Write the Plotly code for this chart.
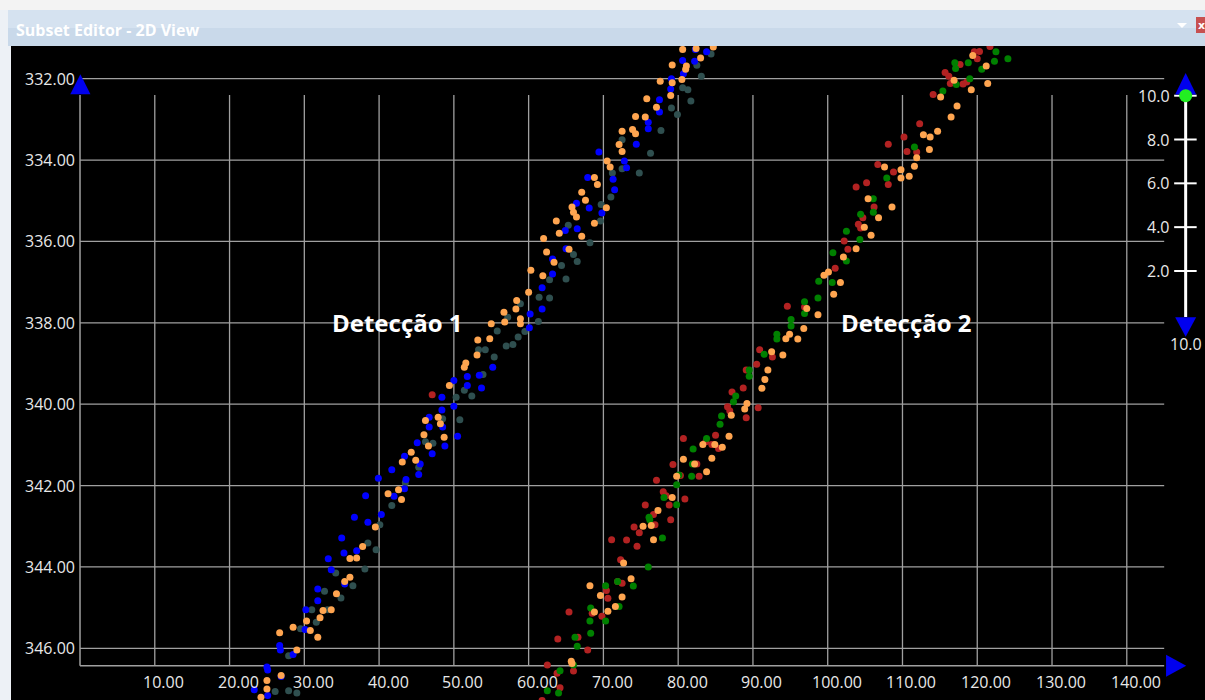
import plotly.graph_objects as go

# ---------------- data ----------------
X_TICKS = [10, 20, 30, 40, 50, 60, 70, 80, 90, 100, 110, 120, 130, 140]
Y_TICKS = [332, 334, 336, 338, 340, 342, 344, 346]
SLIDER_TICKS = [2.0, 4.0, 6.0, 8.0, 10.0]
SLIDER_VALUE = 10.0
SLIDER_MAX = 10.0
WINDOW_TITLE = "Subset Editor - 2D View"
LABEL_1 = "Detecção 1"
LABEL_2 = "Detecção 2"

# Detection 1 - blue
D1_BLUE_X = [82.3, 83.8, 80.6, 82.2, 80.7, 79.1, 79.0, 77.5, 77.5, 76.0, 76.0, 74.4, 69.4, 72.8, 73.1,
             71.3, 71.5, 67.9, 66.4, 68.1, 69.8, 66.5, 64.9, 65.0,
             63.2, 63.2, 61.8, 61.8, 60.2, 60.1, 55.2, 53.4, 51.8, 51.8, 53.7, 50.0, 48.4, 50.0, 48.4,
             46.7, 48.5, 50.5, 46.7, 45.1, 48.8, 47.1, 43.4, 45.5,
             45.3, 41.7, 39.9, 43.6, 43.4, 42.0, 38.2, 40.3, 36.7, 38.5, 35.0, 35.3, 37.0, 33.2, 33.6,
             35.4, 31.8, 31.8, 30.2, 30.1, 26.7, 26.8, 28.5, 25.0, 25.1, 26.9, 23.3, 25.1]
D1_BLUE_Y = [331.28, 331.34, 331.55, 331.57, 331.88, 332.00, 332.25, 332.52, 332.82, 333.07, 333.23, 333.61, 333.80, 334.02, 334.19,
             334.47, 334.73, 334.43, 335.06, 335.18, 335.30, 335.69, 335.73, 336.18,
             336.43, 336.80, 337.14, 337.66, 337.78, 338.12, 339.09, 339.29, 339.32, 339.54, 339.60, 339.42, 339.83, 340.05, 340.14,
             340.32, 340.56, 340.79, 340.56, 340.95, 341.03, 341.22, 341.28, 341.47,
             341.73, 341.61, 341.82, 341.85, 342.08, 342.26, 342.25, 342.71, 342.78, 342.90, 343.29, 343.66, 343.60, 343.80, 344.07,
             344.42, 344.54, 344.83, 345.05, 345.54, 345.93, 346.04, 346.15, 346.46, 346.53, 346.69, 347.02, 347.16]

# Detection 1 - dark slate grey
D1_GRAY_X = [84.4, 82.5, 83.1, 80.6, 81.3, 81.7, 79.1, 79.9, 77.7, 72.5, 76.3, 72.5, 74.8, 71.2, 71.0, 69.7, 69.6, 65.3, 68.2,
             66.0, 66.5, 64.4, 65.0, 62.8, 62.8, 61.4, 58.9, 61.3, 59.5, 58.6, 57.2, 55.8, 57.9, 57.0, 54.2, 53.3, 55.4,
             53.9, 52.4, 51.4, 50.3, 50.8, 48.5, 47.2, 46.2, 45.3,
             43.5, 41.7, 40.1, 38.5, 39.6, 38.1, 34.2, 36.5, 32.7, 34.9, 31.0, 33.1, 31.6, 29.5, 27.9, 26.1, 27.9, 29.0]
D1_GRAY_Y = [331.39, 331.67, 331.94, 332.22, 332.27, 332.55, 332.72, 332.88, 333.27, 333.50, 333.83, 334.21, 334.32, 334.32, 334.91, 335.09, 335.50, 335.60, 336.03,
             336.32, 336.49, 336.59, 336.92, 336.94, 337.39, 337.37, 337.53, 337.97, 338.21, 338.35, 337.86, 338.20, 338.53, 338.57, 338.66, 338.66, 338.84,
             339.27, 339.80, 339.66, 339.83, 340.38, 340.36, 340.96, 340.92, 341.55,
             341.93, 342.49, 342.96, 343.41, 343.58, 344.05, 344.15, 344.46, 344.60, 344.76, 345.05, 345.05, 345.36, 345.52, 346.18, 347.06, 347.04, 347.10]

# Detection 1 - orange
D1_ORANGE_X = [80.6, 82.4, 84.7, 79.2, 81.1, 81.0, 83.0, 77.6, 80.5, 79.2, 79.0, 75.8, 77.1, 75.6, 74.3, 72.5, 73.9, 74.3,
               72.1, 72.5, 70.5, 70.9, 68.8, 69.2, 67.1, 67.6, 65.8, 66.0, 66.4, 70.4, 63.7, 68.8, 64.1, 67.1, 62.0, 65.4,
               62.4, 63.4, 60.3, 61.9, 60.0, 58.4, 58.3, 56.7, 56.8, 58.9, 58.9, 55.0, 54.8, 53.2, 53.1, 51.4, 51.6, 49.4,
               46.2, 47.9, 48.2, 46.0, 48.7, 44.3, 43.1, 44.9, 46.6,
               41.2, 42.6, 43.0, 39.5, 37.8, 37.0, 36.1, 36.1, 35.4, 34.3, 33.6, 32.5, 32.1, 30.3, 28.5, 30.8, 31.8, 26.7,
               29.0, 26.9, 25.0, 25.0, 24.2]
D1_ORANGE_Y = [331.28, 331.26, 331.22, 331.66, 331.69, 331.77, 331.49, 332.06, 332.02, 332.10, 332.41, 332.49, 332.70, 332.94, 332.93, 333.29, 333.25, 333.35,
               333.62, 333.79, 334.02, 334.17, 334.43, 334.60, 334.79, 334.99, 335.15, 335.28, 335.40, 335.17, 335.50, 335.55, 335.80, 335.87, 335.93, 336.19,
               336.26, 336.51, 336.71, 336.84, 337.25, 337.45, 337.66, 337.74, 337.98, 337.90, 338.02, 338.02, 338.39, 338.42, 338.79, 339.09, 338.99, 339.54,
               340.40, 340.32, 340.48, 340.75, 340.81, 341.18, 341.42, 341.38, 341.03,
               342.20, 342.10, 342.34, 343.02, 343.50, 343.78, 343.79, 344.25, 344.36, 344.66, 345.05, 345.07, 345.25, 345.33, 345.48, 345.56, 345.73, 345.62,
               346.04, 346.67, 346.79, 347.00, 347.20]

# Detection 1 - red
D1_RED_X = [47.1]
D1_RED_Y = [339.77]

# Detection 2 - red
D2_RED_X = [119.6, 120.3, 121.7, 120.0, 117.7, 115.7, 116.2, 116.4, 118.1, 118.6, 114.1, 112.3, 110.2, 108.1, 110.6, 111.9,
            106.7, 108.8, 108.1, 105.2, 103.8, 106.2, 104.7, 104.1, 104.4, 102.2, 102.7,
            101.0, 94.6, 96.9, 90.9, 92.6, 90.5, 89.1, 88.7, 87.2, 86.6, 86.9, 90.7, 89.1, 85.0, 80.7, 83.7, 84.5, 85.4,
            79.3, 82.5, 82.8, 77.1,
            80.3, 78.0, 78.4, 75.6, 78.8, 80.9, 76.7, 76.9, 79.0, 74.1, 74.8, 71.1, 73.1, 74.5, 72.3, 71.9, 72.5, 70.4,
            70.6, 65.4, 68.5, 69.8, 66.6, 63.9, 67.9, 62.5, 66.0, 63.8, 64.2, 61.8]
D2_RED_Y = [331.34, 331.33, 331.21, 331.51, 331.65, 331.85, 331.94, 332.12, 332.13, 332.08, 332.39, 333.11, 333.43, 333.61, 333.79, 333.80,
            334.11, 334.29, 334.60, 334.56, 334.66, 335.15, 335.42, 335.58, 335.67, 335.99, 336.19,
            336.66, 337.59, 337.61, 338.66, 338.84, 339.02, 339.16, 339.60, 339.70, 340.06, 340.16, 340.09, 340.33, 340.76, 340.84, 340.92, 340.99, 341.09,
            341.48, 341.47, 341.77, 341.87,
            341.75, 342.15, 342.25, 342.48, 342.48, 342.33, 342.71, 342.96, 342.84, 343.02, 343.16, 343.33, 343.34, 343.49, 343.82, 344.36, 344.40, 344.58,
            344.77, 345.11, 345.14, 345.21, 345.73, 345.77, 346.04, 346.41, 346.56, 346.61, 346.97, 347.28]

# Detection 2 - green
D2_GREEN_X = [122.5, 124.1, 122.3, 117.0, 117.1, 118.8, 120.6, 119.0, 117.2, 115.4, 111.6, 107.9, 106.1, 104.4, 106.1, 102.5, 104.3, 100.7,
              102.5, 98.8, 100.6, 98.7, 96.9, 96.9, 95.1, 95.1, 93.2, 93.2, 91.5, 89.5, 89.5, 87.7, 87.4, 85.8, 85.6, 83.8, 82.0,
              81.9, 80.1, 81.8,
              79.8, 78.1, 79.8, 76.1, 76.2, 77.9, 76.0, 70.3, 71.9, 74.0, 72.1, 68.3, 68.2, 70.3, 68.3, 66.2, 66.5, 66.0, 64.2, 62.5, 64.0]
D2_GREEN_Y = [331.34, 331.51, 331.57, 331.61, 331.75, 331.61, 331.77, 332.00, 332.14, 332.30, 333.68, 334.44, 334.95, 335.33, 335.28, 335.75, 335.95, 336.28,
              336.48, 336.98, 337.01, 337.39, 337.48, 337.77, 337.92, 338.08, 338.28, 338.40, 338.77, 339.16, 339.31, 339.80, 339.94, 340.29, 340.49, 340.84, 341.10,
              341.47, 341.74, 341.77,
              341.98, 342.29, 342.47, 342.78, 342.84, 343.29, 344.00, 344.46, 344.36, 344.47, 344.97, 345.01, 345.33, 345.33, 345.63, 345.73, 345.95, 346.41, 346.55, 347.04, 347.10]

# Detection 2 - orange
D2_ORANGE_X = [119.4, 121.2, 116.9, 121.4, 119.2, 115.1, 117.3, 116.5, 114.7, 112.8, 113.7, 113.6, 111.9, 111.6, 107.6, 109.8, 109.8, 110.9,
               105.4, 108.6, 106.8, 104.9, 105.8, 103.8, 102.1,
               99.5, 100.1, 101.7, 100.8, 97.2, 98.7, 96.8, 94.9, 94.4, 96.0, 94.0, 92.5, 92.0, 91.6, 91.2, 89.2, 88.9, 87.1,
               86.8, 85.9, 83.3, 84.9, 80.7, 84.5, 82.2, 83.8, 79.8,
               79.2, 77.3, 75.3, 76.4, 76.7, 72.7, 73.7, 68.2, 69.6, 72.5, 71.6, 70.6, 68.8, 65.7, 65.8]
D2_ORANGE_Y = [331.43, 331.69, 332.04, 332.12, 332.27, 332.45, 332.67, 332.94, 333.29, 333.38, 333.43, 333.74, 333.94, 334.15, 334.17, 334.24, 334.44, 334.40,
               334.95, 335.15, 335.42, 335.65, 335.85, 336.18, 336.38,
               336.83, 336.75, 337.01, 337.30, 337.65, 337.80, 338.14, 338.28, 338.39, 338.40, 338.79, 338.71, 339.16, 339.39, 339.61, 339.98, 340.12, 340.27,
               340.79, 341.06, 340.99, 340.99, 341.35, 341.33, 341.47, 341.66, 341.77,
               342.29, 342.61, 343.00, 342.98, 343.33, 343.90, 344.29, 344.46, 344.70, 344.74, 344.97, 345.09, 345.11, 346.32, 346.37]

# ---------------- styling / layout constants ----------------
BLUE = "#0000ff"
GRAY = "#2f4f4f"
ORANGE = "#ffa550"
RED = "#b22222"
GREEN = "#008000"
GRID = "#a0a0a0"
TXT = "#e8e8e8"
ARROW = "#0000ee"

X_RANGE = [-9.23, 150.46]
Y_RANGE = [347.27, 331.196]
Y2_RANGE = [-17.579, 12.267]
AXIS_X0 = 0
GRID_X_END = 145
GRID_Y_TOP = 332.4
AXIS_Y = 346.43
SLIDER_X = 0.9838
PXW = 1 / 1194.0   # one pixel in paper-x units
PXH = 1 / 654.0    # one pixel in paper-y units

fig = go.Figure()

def add_pts(xs, ys, color):
    fig.add_trace(go.Scatter(x=xs, y=ys, mode="markers",
                             marker=dict(color=color, size=7, line=dict(width=0)),
                             hoverinfo="skip", showlegend=False))

add_pts(D1_GRAY_X, D1_GRAY_Y, GRAY)
add_pts(D1_BLUE_X, D1_BLUE_Y, BLUE)
add_pts(D1_ORANGE_X, D1_ORANGE_Y, ORANGE)
add_pts(D1_RED_X, D1_RED_Y, RED)
add_pts(D2_RED_X, D2_RED_Y, RED)
add_pts(D2_GREEN_X, D2_GREEN_Y, GREEN)
add_pts(D2_ORANGE_X, D2_ORANGE_Y, ORANGE)

# slider knob
fig.add_trace(go.Scatter(x=[SLIDER_X], y=[SLIDER_VALUE], xaxis="x2", yaxis="y2", mode="markers",
                         marker=dict(color="#22ee22", size=13, line=dict(width=0)),
                         hoverinfo="skip", showlegend=False, cliponaxis=False))

shapes = []
# window frame
shapes.append(dict(type="rect", xref="paper", yref="paper", x0=-0.02, x1=1.02, y0=1.0 + 36 * PXH, y1=1.0 + 50 * PXH,
                   fillcolor="#f3f3f3", line=dict(width=0), layer="below"))
shapes.append(dict(type="rect", xref="paper", yref="paper", x0=-3 * PXW, x1=1.01, y0=1.0, y1=1.0 + 36 * PXH,
                   fillcolor="#c9d9ea", line=dict(width=0), layer="below"))
shapes.append(dict(type="rect", xref="paper", yref="paper", x0=-3 * PXW, x1=1.01, y0=1.0 + 18 * PXH, y1=1.0 + 36 * PXH,
                   fillcolor="#d5e2f0", line=dict(width=0), layer="below"))
shapes.append(dict(type="rect", xref="paper", yref="paper", x0=1.0 - 9 * PXW, x1=1.01, y0=1.0 + 13 * PXH, y1=1.0 + 29 * PXH,
                   fillcolor="#c75050", line=dict(width=0)))
shapes.append(dict(type="path", xref="paper", yref="paper",
                   path=f"M {1.0 - 28 * PXW},{1.0 + 23 * PXH} L {1.0 - 18 * PXW},{1.0 + 23 * PXH} L {1.0 - 23 * PXW},{1.0 + 18 * PXH} Z",
                   fillcolor="#ffffff", line=dict(width=0)))

# grid
for yv in Y_TICKS:
    shapes.append(dict(type="line", xref="x", yref="y", x0=AXIS_X0, x1=GRID_X_END, y0=yv, y1=yv,
                       line=dict(color=GRID, width=1.3), layer="below"))
for xv in X_TICKS:
    shapes.append(dict(type="line", xref="x", yref="y", x0=xv, x1=xv, y0=GRID_Y_TOP, y1=AXIS_Y,
                       line=dict(color=GRID, width=1.3), layer="below"))
# axes lines
shapes.append(dict(type="line", xref="x", yref="y", x0=AXIS_X0, x1=AXIS_X0, y0=GRID_Y_TOP, y1=AXIS_Y,
                   line=dict(color=GRID, width=1.5), layer="below"))
shapes.append(dict(type="line", xref="x", yref="y", x0=AXIS_X0, x1=GRID_X_END, y0=AXIS_Y, y1=AXIS_Y,
                   line=dict(color=GRID, width=1.5), layer="below"))
# axis arrows
shapes.append(dict(type="path", xref="x", yref="y",
                   path=f"M {AXIS_X0 - 1.3},{GRID_Y_TOP - 0.02} L {AXIS_X0 + 1.4},{GRID_Y_TOP - 0.02} L {AXIS_X0 + 0.05},{GRID_Y_TOP - 0.51} Z",
                   fillcolor=ARROW, line=dict(width=0)))
shapes.append(dict(type="path", xref="x", yref="y",
                   path=f"M {GRID_X_END + 0.25},{AXIS_Y - 0.27} L {GRID_X_END + 0.25},{AXIS_Y + 0.27} L {GRID_X_END + 2.95},{AXIS_Y} Z",
                   fillcolor=ARROW, line=dict(width=0)))

# slider (below the knob trace)
shapes.append(dict(type="line", xref="x2", yref="y2", x0=SLIDER_X, x1=SLIDER_X, y0=-0.1, y1=SLIDER_MAX + 0.05,
                   line=dict(color="#ffffff", width=3), layer="below"))
for tv in SLIDER_TICKS:
    shapes.append(dict(type="line", xref="x2", yref="y2", x0=SLIDER_X - 11.5 * PXW, x1=SLIDER_X + 11 * PXW, y0=tv, y1=tv,
                       line=dict(color="#ffffff", width=2), layer="below"))
shapes.append(dict(type="path", xref="x2", yref="y2",
                   path=f"M {SLIDER_X - 10.5 * PXW},{SLIDER_MAX + 0.05} L {SLIDER_X + 10.5 * PXW},{SLIDER_MAX + 0.05} L {SLIDER_X},{SLIDER_MAX + 1.03} Z",
                   fillcolor=ARROW, line=dict(width=0), layer="below"))
shapes.append(dict(type="path", xref="x2", yref="y2",
                   path=f"M {SLIDER_X - 10.5 * PXW},-0.11 L {SLIDER_X + 10.5 * PXW},-0.11 L {SLIDER_X},-1.0 Z",
                   fillcolor=ARROW, line=dict(width=0), layer="below"))

ann = []
NUMF = dict(family="Open Sans, DejaVu Sans, sans-serif", size=16, color=TXT)
for yv in Y_TICKS:
    ann.append(dict(x=AXIS_X0, y=yv, xref="x", yref="y", text=f"{yv:.2f}", showarrow=False,
                    xanchor="right", yanchor="middle", xshift=-3, font=NUMF))
for xv in X_TICKS:
    ann.append(dict(x=xv, y=AXIS_Y, xref="x", yref="y", text=f"{xv:.2f}", showarrow=False,
                    xanchor="center", yanchor="middle", xshift=9, yshift=-16, font=NUMF))
for tv in SLIDER_TICKS:
    ann.append(dict(x=SLIDER_X, y=tv, xref="x2", yref="y2", text=f"{tv:.1f}", showarrow=False,
                    xanchor="right", yanchor="middle", xshift=-14, font=NUMF))
ann.append(dict(x=1.0, y=-1.35, xref="paper", yref="y2", text=f"{SLIDER_MAX:.1f}", showarrow=False,
                xanchor="right", yanchor="middle", xshift=-1, font=NUMF))

BIGF = dict(family="Open Sans, sans-serif", size=24, color="#ffffff")
ann.append(dict(x=42.4, y=338.0, xref="x", yref="y", text=f"<b>{LABEL_1}</b>", showarrow=False,
                xanchor="center", yanchor="middle", font=BIGF))
ann.append(dict(x=110.5, y=338.0, xref="x", yref="y", text=f"<b>{LABEL_2}</b>", showarrow=False,
                xanchor="center", yanchor="middle", font=BIGF))

ann.append(dict(x=3 * PXW, y=1.0 + 16 * PXH, xref="paper", yref="paper", text=f"<b>{WINDOW_TITLE}</b>",
                showarrow=False, xanchor="left", yanchor="middle",
                font=dict(family="Open Sans, sans-serif", size=16, color="#ffffff")))
ann.append(dict(x=1.0 - 4 * PXW, y=1.0 + 21 * PXH, xref="paper", yref="paper", text="<b>x</b>",
                showarrow=False, xanchor="center", yanchor="middle",
                font=dict(family="DejaVu Sans, sans-serif", size=11, color="#ffffff")))

fig.update_layout(
    width=1205, height=700, autosize=False,
    margin=dict(l=11, r=0, t=46, b=0, pad=0),
    paper_bgcolor="#edf1f6", plot_bgcolor="#000000",
    showlegend=False, hovermode=False,
    xaxis=dict(range=X_RANGE, visible=False, fixedrange=True),
    yaxis=dict(range=Y_RANGE, visible=False, fixedrange=True),
    xaxis2=dict(range=[0, 1], overlaying="x", visible=False, fixedrange=True),
    yaxis2=dict(range=Y2_RANGE, overlaying="y", visible=False, fixedrange=True),
    shapes=shapes, annotations=ann,
)

fig.write_html("out.html", config={"displayModeBar": False},
               post_script="document.body.style.margin='0';document.body.style.overflow='hidden';")
